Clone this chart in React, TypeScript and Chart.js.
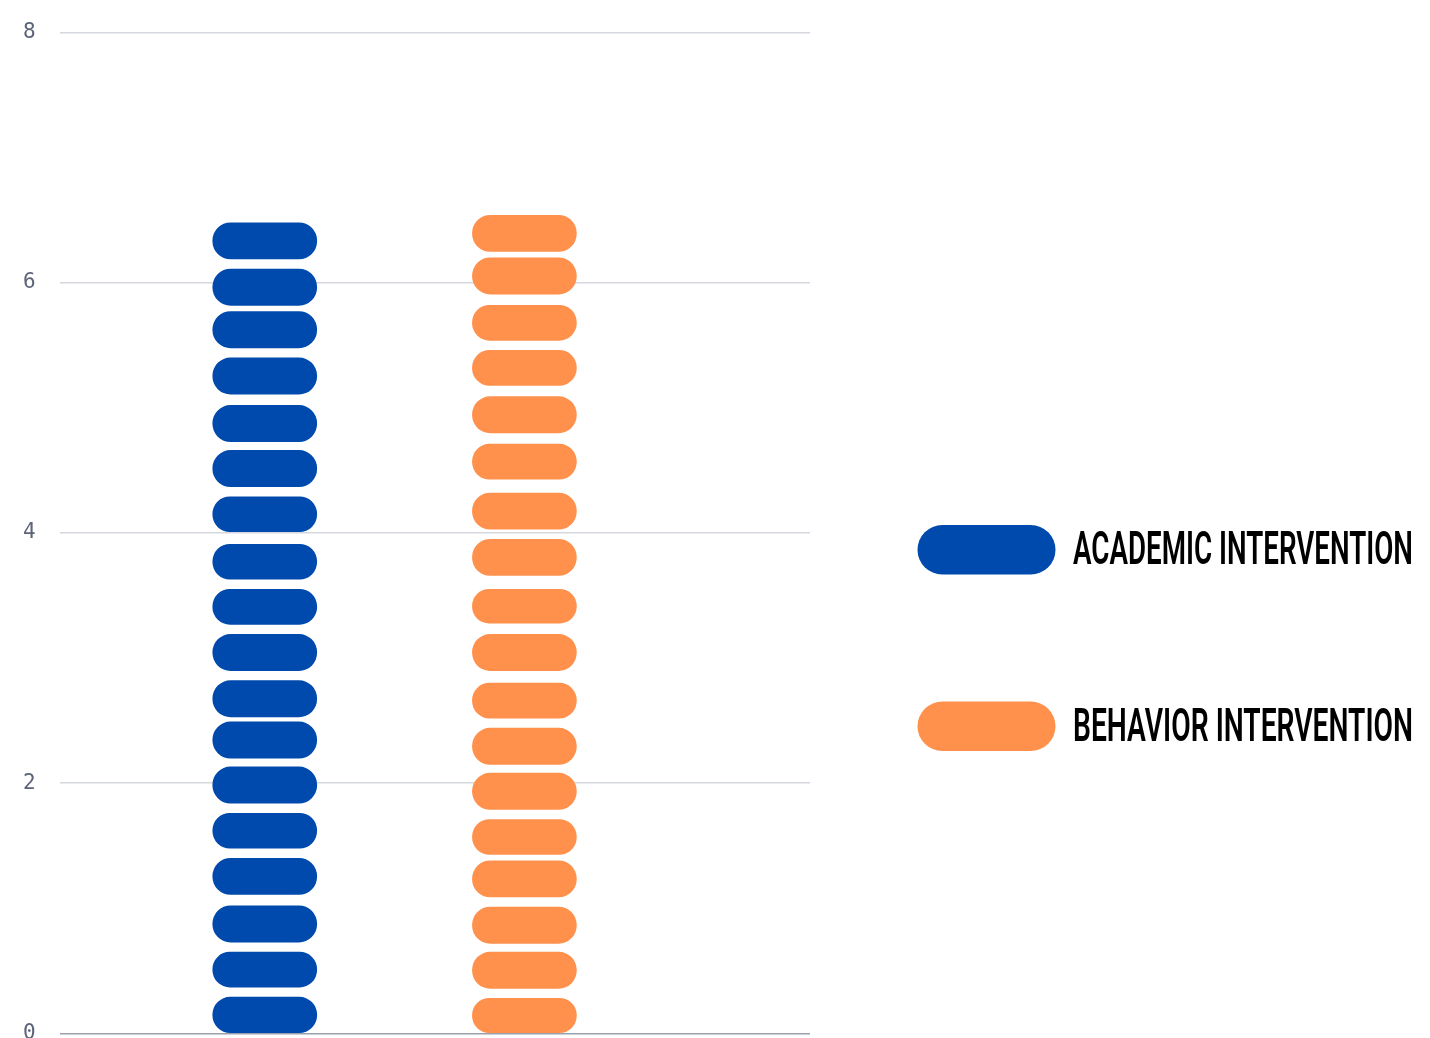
import React, { useEffect, useRef } from 'react';
import { Chart, registerables } from 'chart.js';

Chart.register(...registerables);

// ---- data ----
const categories = ['Academic Intervention', 'Behavior Intervention'];
const seriesLabels = ['ACADEMIC INTERVENTION', 'BEHAVIOR INTERVENTION'];
const seriesColors = ['#004aad', '#ff914d'];

// each pill is a floating bar [bottom, top] in y-axis units, bottom to top
const academicPills: [number, number][] = [
  [0.0, 0.29], [0.37, 0.65], [0.73, 1.02], [1.11, 1.4], [1.48, 1.76], [1.84, 2.13],
  [2.2, 2.49], [2.53, 2.82], [2.9, 3.19], [3.27, 3.55], [3.63, 3.91], [4.01, 4.29],
  [4.37, 4.66], [4.73, 5.02], [5.11, 5.4], [5.48, 5.77], [5.82, 6.11], [6.19, 6.48],
];
const behaviorPills: [number, number][] = [
  [0.0, 0.28], [0.36, 0.65], [0.72, 1.01], [1.09, 1.38], [1.43, 1.71], [1.79, 2.08],
  [2.15, 2.44], [2.52, 2.8], [2.9, 3.19], [3.28, 3.55], [3.66, 3.95], [4.03, 4.32],
  [4.43, 4.71], [4.8, 5.09], [5.18, 5.46], [5.54, 5.82], [5.91, 6.2], [6.25, 6.54],
];
const yTicks = [0, 2, 4, 6, 8];

const seriesPills = [academicPills, behaviorPills];

export default function App() {
  const canvasRef = useRef<HTMLCanvasElement | null>(null);

  useEffect(() => {
    if (!canvasRef.current) return;
    const datasets = seriesPills.map((pills, ci) => ({
      label: categories[ci],
      data: pills.map((p) => ({ x: ci, y: p })),
      backgroundColor: seriesColors[ci],
      borderWidth: 0,
      borderRadius: 100,
      borderSkipped: false as const,
      barThickness: 104,
      grouped: false,
    }));
    const chart = new Chart(canvasRef.current, {
      type: 'bar',
      data: { datasets: datasets as any },
      options: {
        animation: false,
        responsive: true,
        maintainAspectRatio: false,
        layout: { padding: { left: 24, top: 0, right: 0, bottom: 0 } },
        plugins: { legend: { display: false }, tooltip: { enabled: false } },
        scales: {
          x: {
            type: 'linear',
            display: false,
            min: -0.79,
            max: 2.1,
            offset: false,
          },
          y: {
            min: yTicks[0],
            max: yTicks[yTicks.length - 1],
            afterBuildTicks: (scale: any) => {
              scale.ticks = yTicks.map((v) => ({ value: v }));
            },
            border: { display: false },
            grid: {
              drawTicks: false,
              lineWidth: 1.5,
              color: (ctx: any) => (ctx.tick && ctx.tick.value === 0 ? '#9aa0ad' : '#d5d8de'),
            },
            ticks: {
              padding: 24,
              color: '#5d6479',
              font: { family: "'DejaVu Sans Mono', monospace", size: 21 },
            },
          },
        },
      },
    });
    return () => chart.destroy();
  }, []);

  const legendTops = [525, 701.5];
  return (
    <div style={{ position: 'fixed', left: 0, top: 0, width: 1430, height: 1038, overflow: 'hidden', background: '#fff' }}>
      <div style={{ position: 'absolute', left: -25, top: -4, width: 835, height: 1074 }}>
        <canvas ref={canvasRef} />
      </div>
      <svg width={1430} height={1038} style={{ position: 'absolute', left: 0, top: 0, pointerEvents: 'none' }}>
        {seriesLabels.map((lab, i) => (
          <g key={lab}>
            <rect x={917.5} y={legendTops[i]} width={138} height={49.5} rx={24.75} ry={24.75} fill={seriesColors[i]} />
            <text
              x={1073}
              y={legendTops[i] + 39}
              textLength={340}
              lengthAdjust="spacingAndGlyphs"
              fontFamily="'Liberation Sans Narrow', Roboto, sans-serif"
              fontWeight={600}
              fontSize={46.5}
              fill="#000"
            >
              {lab}
            </text>
          </g>
        ))}
      </svg>
    </div>
  );
}
